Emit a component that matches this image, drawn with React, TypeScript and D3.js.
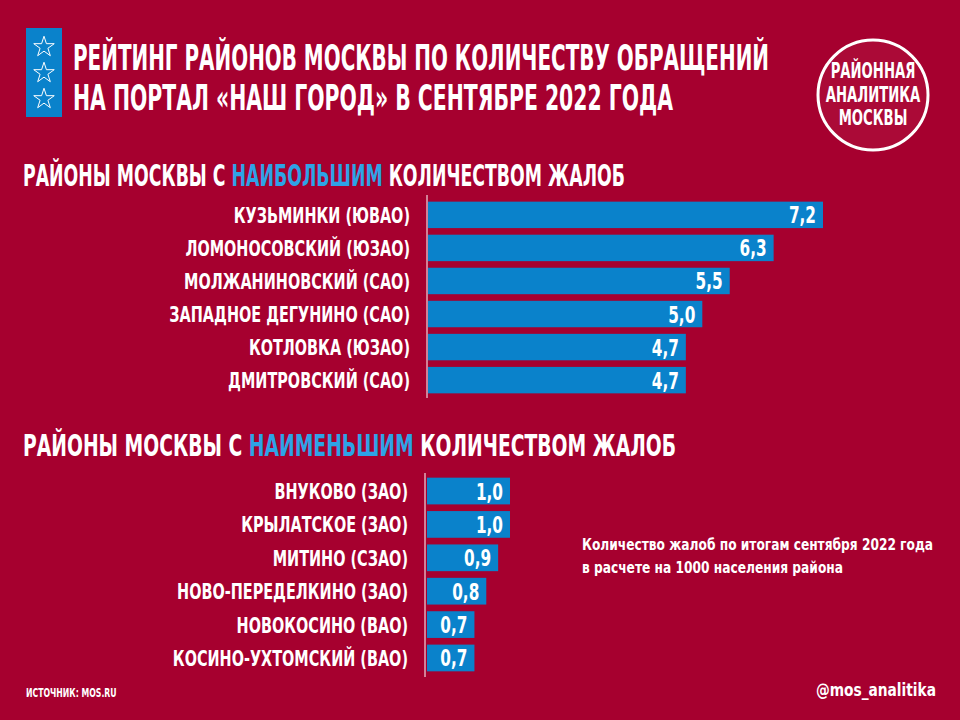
import * as d3 from "d3";
import React from "react";

const BG = "#a6002f";
const BAR = "#0a82cb";
const ACCENT = "#2ea3e6";
const FONT = "'Liberation Sans Narrow', 'DejaVu Sans Condensed', 'Roboto', sans-serif";

const topDistricts = [
  "КУЗЬМИНКИ (ЮВАО)",
  "ЛОМОНОСОВСКИЙ (ЮЗАО)",
  "МОЛЖАНИНОВСКИЙ (САО)",
  "ЗАПАДНОЕ ДЕГУНИНО (САО)",
  "КОТЛОВКА (ЮЗАО)",
  "ДМИТРОВСКИЙ (САО)",
];
const topValues = [7.2, 6.3, 5.5, 5.0, 4.7, 4.7];

const bottomDistricts = [
  "ВНУКОВО (ЗАО)",
  "КРЫЛАТСКОЕ (ЗАО)",
  "МИТИНО (СЗАО)",
  "НОВО-ПЕРЕДЕЛКИНО (ЗАО)",
  "НОВОКОСИНО (ВАО)",
  "КОСИНО-УХТОМСКИЙ (ВАО)",
];
const bottomValues = [1.0, 1.0, 0.9, 0.8, 0.7, 0.7];

const logoLines = ["РАЙОННАЯ", "АНАЛИТИКА", "МОСКВЫ"];

const fmt = (v: number) => v.toFixed(1).replace(".", ",");

// condensed text: the installed fonts are too wide, squeeze horizontally
function Cond({
  x,
  y,
  sx,
  size,
  anchor = "start",
  children,
}: {
  x: number;
  y: number;
  sx: number;
  size: number;
  anchor?: string;
  children: React.ReactNode;
}) {
  return (
    <text
      transform={`translate(${x},${y}) scale(${sx},1)`}
      textAnchor={anchor}
      fontFamily={FONT}
      fontWeight="bold"
      fontSize={size}
      fill="#fff"
    >
      {children}
    </text>
  );
}

function BarBlock({
  names,
  values,
  x,
  y,
  axisX,
  axisTop,
  axisBottom,
}: {
  names: string[];
  values: number[];
  x: d3.ScaleLinear<number, number>;
  y: d3.ScaleBand<string>;
  axisX: number;
  axisTop: number;
  axisBottom: number;
}) {
  const x0 = x.range()[0];
  const bw = y.bandwidth();
  return (
    <g>
      {names.map((n, i) => {
        const yy = y(n)!;
        return (
          <g key={n}>
            <rect x={x0} y={yy} width={x(values[i]) - x0} height={bw} fill={BAR} />
            <Cond x={axisX - 17} y={yy + bw / 2 + 8} sx={0.73} size={22} anchor="end">
              {n}
            </Cond>
            <Cond x={x(values[i]) - 7} y={yy + bw / 2 + 8.5} sx={0.74} size={23} anchor="end">
              {fmt(values[i])}
            </Cond>
          </g>
        );
      })}
      <line x1={axisX} x2={axisX} y1={axisTop} y2={axisBottom} stroke="#fff" strokeWidth={1} />
    </g>
  );
}

export default function App() {
  const xTop = d3.scaleLinear().domain([0, 7.2]).range([428, 823]);
  const yTop = d3
    .scaleBand<string>()
    .domain(topDistricts)
    .range([200, 395])
    .paddingInner(0.2)
    .paddingOuter(0.05);

  const xBottom = d3.scaleLinear().domain([0.3, 1.0]).range([427, 510]);
  const yBottom = d3
    .scaleBand<string>()
    .domain(bottomDistricts)
    .range([476, 673])
    .paddingInner(0.2)
    .paddingOuter(0.05);

  const star = d3.symbol(d3.symbolStar, 130)()!;

  return (
    <svg
      width={960}
      height={720}
      style={{ position: "absolute", left: 0, top: 0, display: "block" }}
    >
      <rect width={960} height={720} fill={BG} />

      {/* title block */}
      <rect x={26} y={28} width={36} height={89} fill={BAR} />
      {[46, 72, 98].map((cy) => (
        <path
          key={cy}
          d={star}
          transform={`translate(44,${cy + 1})`}
          fill="none"
          stroke="#fff"
          strokeWidth={1}
        />
      ))}
      <text
        x={73}
        y={70}
        fontFamily={FONT}
        fontWeight="bold"
        fontSize={36}
        fill="#fff"
        textLength={696}
        lengthAdjust="spacingAndGlyphs"
      >
        РЕЙТИНГ РАЙОНОВ МОСКВЫ ПО КОЛИЧЕСТВУ ОБРАЩЕНИЙ
      </text>
      <text
        x={73}
        y={110}
        fontFamily={FONT}
        fontWeight="bold"
        fontSize={36}
        fill="#fff"
        textLength={600}
        lengthAdjust="spacingAndGlyphs"
      >
        НА ПОРТАЛ «НАШ ГОРОД» В СЕНТЯБРЕ 2022 ГОДА
      </text>

      {/* logo */}
      <circle cx={873} cy={95} r={55} fill="#ab0a37" stroke="#fff" strokeWidth={3} />
      {logoLines.map((t, i) => (
        <Cond key={t} x={873} y={78 + i * 23.5} sx={0.7} size={21} anchor="middle">
          {t}
        </Cond>
      ))}

      {/* section headings */}
      <text
        x={23}
        y={186}
        fontFamily={FONT}
        fontWeight="bold"
        fontSize={31}
        fill="#fff"
        textLength={602}
        lengthAdjust="spacingAndGlyphs"
      >
        РАЙОНЫ МОСКВЫ С <tspan fill={ACCENT}>НАИБОЛЬШИМ</tspan> КОЛИЧЕСТВОМ ЖАЛОБ
      </text>
      <text
        x={23}
        y={456}
        fontFamily={FONT}
        fontWeight="bold"
        fontSize={31}
        fill="#fff"
        textLength={653}
        lengthAdjust="spacingAndGlyphs"
      >
        РАЙОНЫ МОСКВЫ С <tspan fill={ACCENT}>НАИМЕНЬШИМ</tspan> КОЛИЧЕСТВОМ ЖАЛОБ
      </text>

      <BarBlock
        names={topDistricts}
        values={topValues}
        x={xTop}
        y={yTop}
        axisX={427}
        axisTop={195}
        axisBottom={398}
      />
      <BarBlock
        names={bottomDistricts}
        values={bottomValues}
        x={xBottom}
        y={yBottom}
        axisX={425}
        axisTop={473}
        axisBottom={677}
      />

      {/* note */}
      <text
        x={582}
        y={550}
        fontFamily={FONT}
        fontWeight="bold"
        fontSize={16}
        fill="#fff"
        textLength={351}
        lengthAdjust="spacingAndGlyphs"
      >
        Количество жалоб по итогам сентября 2022 года
      </text>
      <text
        x={582}
        y={573}
        fontFamily={FONT}
        fontWeight="bold"
        fontSize={16}
        fill="#fff"
        textLength={261}
        lengthAdjust="spacingAndGlyphs"
      >
        в расчете на 1000 населения района
      </text>

      {/* footer */}
      <Cond x={26} y={697} sx={0.72} size={12}>
        ИСТОЧНИК: MOS.RU
      </Cond>
      <Cond x={936} y={696} sx={0.85} size={18} anchor="end">
        @mos_analitika
      </Cond>
    </svg>
  );
}
